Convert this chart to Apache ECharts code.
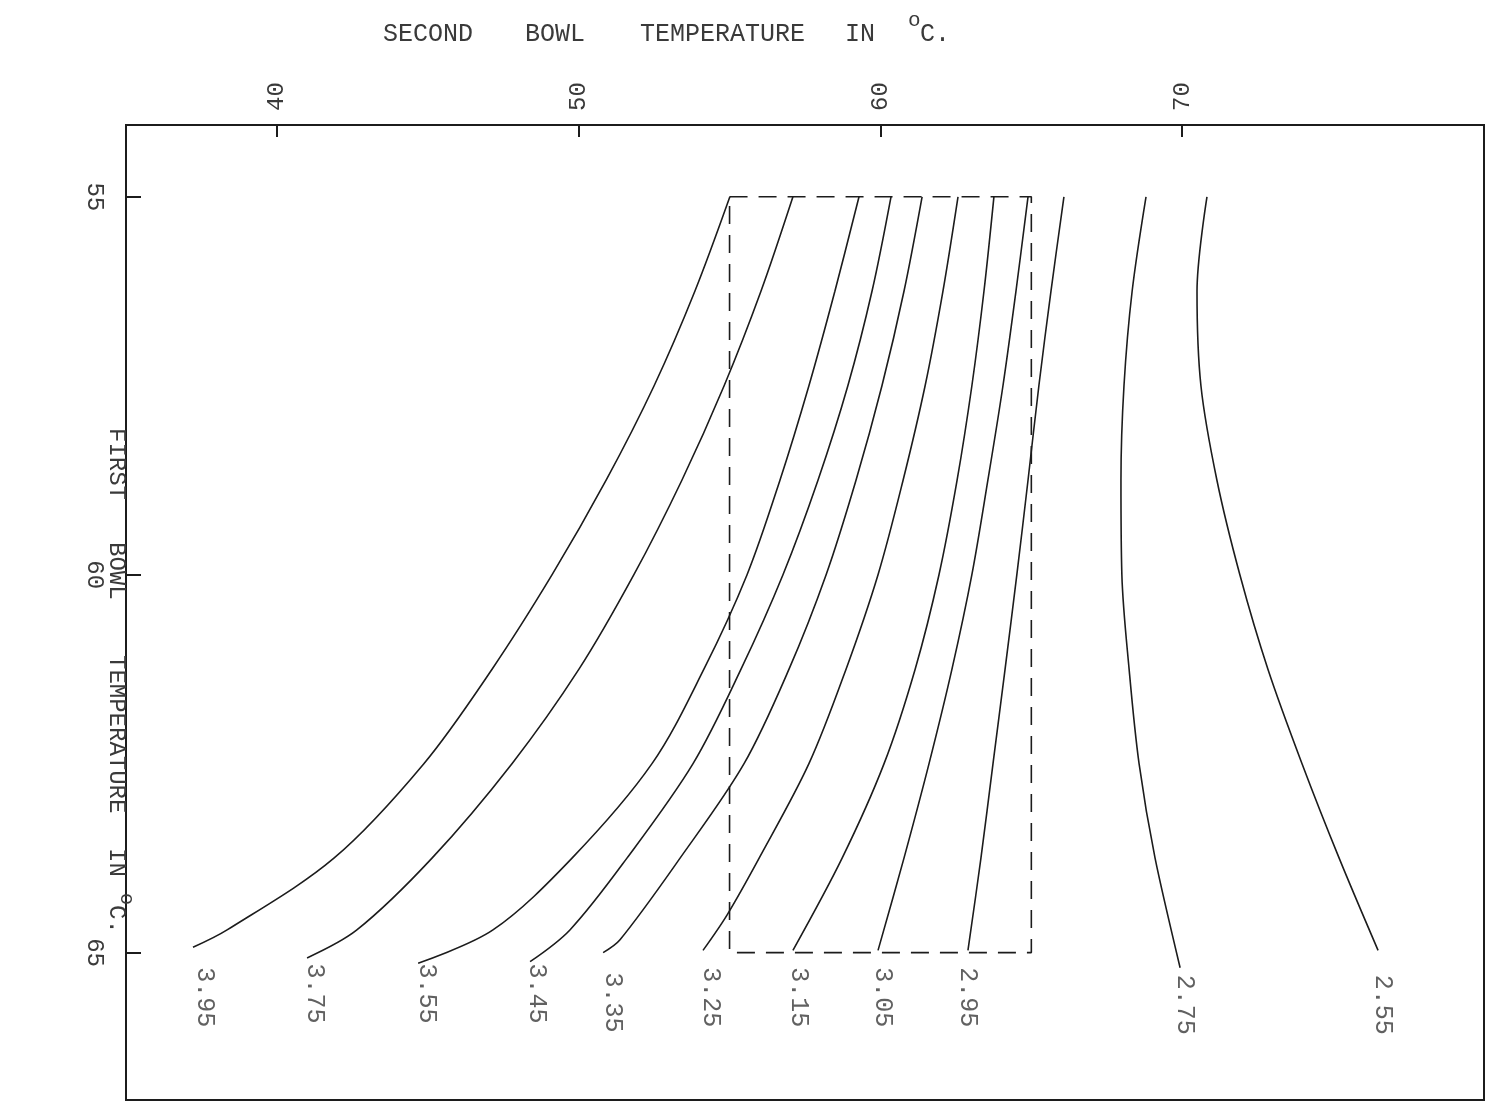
<!DOCTYPE html>
<html>
<head>
<meta charset="utf-8">
<script src="https://cdn.jsdelivr.net/npm/echarts@6/dist/echarts.min.js"></script>
<style>
  html, body { margin: 0; padding: 0; background: #ffffff; }
  #chart { width: 1492px; height: 1111px; }
</style>
</head>
<body>
<div id="chart"></div>
<script>
// ---- data (x = second bowl temp, y = first bowl temp) ----
const secondBowlTicks = [40, 50, 60, 70];
const firstBowlTicks = [55, 60, 65];
const curveLabels = ['3.95', '3.75', '3.55', '3.45', '3.35', '3.25', '3.15', '3.05', '2.95', '2.75', '2.55'];

// first bowl temperature levels at which the curves were read
const yLevels = [55, 56.25, 57.5, 58.75, 60, 61.25, 62.5, 63.75];

// second bowl temperature of each curve at those levels, then its tail points [x, y]
const c395 = [55.01, 53.85, 52.50, 50.91, 49.12, 47.13, 44.87, 41.89];
const t395 = [[38.35, 64.70], [37.22, 64.93]];
const c375 = [57.10, 56.04, 54.82, 53.42, 51.83, 50.01, 47.79, 45.14];
const t375 = [[42.65, 64.70], [41.00, 65.07]];
const c355 = [59.29, 58.49, 57.63, 56.67, 55.58, 54.15, 52.43, 49.78];
const t355 = [[47.16, 64.70], [44.68, 65.14]];
const c345 = [60.35, 59.72, 58.92, 57.93, 56.77, 55.38, 53.79, 51.60];
const t345 = [[49.71, 64.70], [48.39, 65.12]];
const c335 = [61.38, 60.78, 60.05, 59.19, 58.20, 56.97, 55.48, 53.36];
const t335 = [[51.37, 64.83], [50.81, 65.00]];
const c325 = [62.57, 62.07, 61.48, 60.75, 59.92, 58.86, 57.63, 55.98];
const t325 = [[54.92, 64.50], [54.12, 64.97]];
const c315 = [63.76, 63.43, 63.03, 62.54, 61.94, 61.15, 60.12, 58.73];
const t315 = [[57.10, 64.97]];
const c305 = [64.89, 64.49, 64.06, 63.56, 63.03, 62.37, 61.61, 60.78];
const t305 = [[59.92, 64.97]];
const c295 = [66.08, 65.65, 65.25, 64.89, 64.52, 64.13, 63.73, 63.33];
const t295 = [[62.90, 64.97]];
const c275 = [68.80, 68.34, 68.07, 67.97, 68.00, 68.24, 68.57, 69.10];
const t275 = [[69.93, 65.20]];
const c255 = [70.82, 70.49, 70.62, 71.15, 71.91, 72.84, 73.97, 75.20];
const t255 = [[76.49, 64.97]];

const curveX = [c395, c375, c355, c345, c335, c325, c315, c305, c295, c275, c255];
const curveTail = [t395, t375, t355, t345, t335, t325, t315, t305, t295, t275, t255];

// curve label anchors (x centre, y where the text starts)
const labelX = [37.61, 41.26, 44.98, 48.63, 51.15, 54.4, 57.3, 60.1, 62.9, 70.1, 76.65];
const labelY = [65.2, 65.15, 65.15, 65.15, 65.27, 65.2, 65.2, 65.2, 65.2, 65.3, 65.3];

// dashed rectangle corners
const boxX = [55, 65, 65, 55, 55];
const boxY = [55, 55, 65, 65, 55];

// ---- chart ----
const FONT = "'Liberation Mono', 'DejaVu Sans Mono', monospace";
const INK = '#1c1c1c';
const TXT = '#3a3a3a';

const chart = echarts.init(document.getElementById('chart'), null, { renderer: 'canvas' });

const series = curveX.map((xs, i) => ({
  name: curveLabels[i],
  type: 'line',
  data: xs.map((x, k) => [x, yLevels[k]]).concat(curveTail[i]),
  smooth: 0.33,
  showSymbol: false,
  symbol: 'none',
  lineStyle: { color: INK, width: 1.6 },
  z: 3,
  silent: true
}));

series.push({
  name: 'box',
  type: 'line',
  data: boxX.map((x, i) => [x, boxY[i]]),
  showSymbol: false,
  symbol: 'none',
  lineStyle: { color: INK, width: 1.6, type: [18, 11] },
  z: 2,
  silent: true
});

series.push({
  name: 'labels',
  type: 'scatter',
  data: labelX.map((x, i) => [x, labelY[i]]),
  symbolSize: 1,
  itemStyle: { color: 'rgba(0,0,0,0)' },
  label: {
    show: true,
    position: [0, 0],
    align: 'left',
    verticalAlign: 'middle',
    rotate: -90,
    fontFamily: FONT,
    fontSize: 25,
    color: TXT,
    formatter: p => curveLabels[p.dataIndex]
  },
  silent: true,
  z: 4
});

function hText(str, x, y, size) {
  return { type: 'text', x: x, y: y,
    style: { text: str, font: size + 'px ' + FONT, fill: TXT, align: 'left', verticalAlign: 'middle' } };
}
function vText(str, x, y, size) {
  return { type: 'text', x: x, y: y, rotation: -Math.PI / 2,
    style: { text: str, font: size + 'px ' + FONT, fill: TXT, align: 'left', verticalAlign: 'middle' } };
}

chart.setOption({
  animation: false,
  backgroundColor: '#ffffff',
  grid: {
    left: 126, right: 8, top: 125, bottom: 11,
    show: true, borderColor: INK, borderWidth: 2, backgroundColor: 'transparent'
  },
  xAxis: {
    type: 'value',
    position: 'top',
    min: 35, max: 80,
    axisLine: { show: false },
    splitLine: { show: false },
    axisTick: { show: true, inside: true, length: 12, lineStyle: { color: INK, width: 2 }, customValues: secondBowlTicks },
    axisLabel: { show: true, customValues: secondBowlTicks, rotate: -90, margin: 14, fontFamily: FONT, fontSize: 24, color: TXT }
  },
  yAxis: {
    type: 'value',
    inverse: true,
    min: 54.05, max: 66.95,
    axisLine: { show: false },
    splitLine: { show: false },
    axisTick: { show: true, inside: true, length: 15, lineStyle: { color: INK, width: 2 }, customValues: firstBowlTicks },
    axisLabel: { show: true, customValues: firstBowlTicks, rotate: -90, margin: 20, fontFamily: FONT, fontSize: 24, color: TXT }
  },
  graphic: [
    hText('SECOND', 383, 34, 25),
    hText('BOWL', 525, 34, 25),
    hText('TEMPERATURE', 640, 34, 25),
    hText('IN', 845, 34, 25),
    hText('o', 908, 20, 21),
    hText('C.', 920, 34, 25),
    vText('FIRST', 116, 428, 24),
    vText('BOWL', 116, 542, 24),
    vText('TEMPERATURE', 116, 655, 24),
    vText('IN', 116, 848, 24),
    vText('o', 126, 893, 20),
    vText('C.', 116, 905, 24)
  ],
  series: series
});
</script>
</body>
</html>
